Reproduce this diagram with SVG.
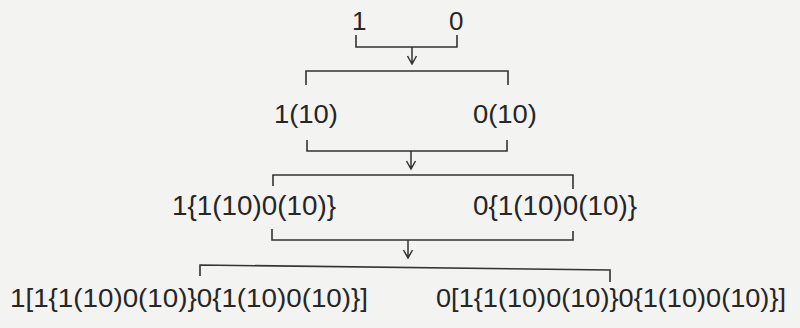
<svg xmlns="http://www.w3.org/2000/svg" width="800" height="328" viewBox="0 0 800 328">
  <defs>
    <style>
      .t { font-family: "Liberation Sans", Arial, sans-serif; fill: #262626; }
      .r1 { font-size: 26px; }
      .r2 { font-size: 25px; }
      .r3 { font-size: 27px; }
      .r4 { font-size: 25px; }
      .c { fill: none; stroke: #333; stroke-width: 1.6; stroke-linejoin: miter; }
      .a { fill: none; stroke: #333; stroke-width: 1.5; }
    </style>
  </defs>
  <rect x="0" y="0" width="800" height="328" fill="#f3f3f1"/>

  <g id="connectors">
    <path class="c" d="M356,35 V47 H457 V35"/>
    <path class="a" d="M412,47 V63 M407.5,56 L412,64 L416.5,56"/>
    <path class="c" d="M306,85 V71 H508 V85"/>

    <path class="c" d="M307,140 V151 H507 V140"/>
    <path class="a" d="M411,151 V168 M406.5,161 L411,169 L415.5,161"/>
    <path class="c" d="M273,186 V175 H573 V189"/>

    <path class="c" d="M272,229 V240 H573 V231"/>
    <path class="a" d="M408,240 V257 M403.5,250 L408,258 L412.5,250"/>
    <path class="c" d="M200,276 V265 L610,270 V282"/>
  </g>

  <g id="node-1"><text class="t r1" x="352" y="30">1</text></g>
  <g id="node-0"><text class="t r1" x="449" y="30">0</text></g>

  <g id="node-1-10"><text class="t r2" x="274" y="123" textLength="64" lengthAdjust="spacingAndGlyphs">1(10)</text></g>
  <g id="node-0-10"><text class="t r2" x="473" y="123" textLength="64" lengthAdjust="spacingAndGlyphs">0(10)</text></g>

  <g id="node-1-b"><text class="t r3" x="172" y="215" textLength="164" lengthAdjust="spacingAndGlyphs">1{1(10)0(10)}</text></g>
  <g id="node-0-b"><text class="t r3" x="473" y="215" textLength="164" lengthAdjust="spacingAndGlyphs">0{1(10)0(10)}</text></g>

  <g id="node-1-s"><text class="t r4" x="10" y="307" textLength="358" lengthAdjust="spacingAndGlyphs">1[1{1(10)0(10)}0{1(10)0(10)}]</text></g>
  <g id="node-0-s"><text class="t r4" x="436" y="307" textLength="350" lengthAdjust="spacingAndGlyphs">0[1{1(10)0(10)}0{1(10)0(10)}]</text></g>
</svg>
